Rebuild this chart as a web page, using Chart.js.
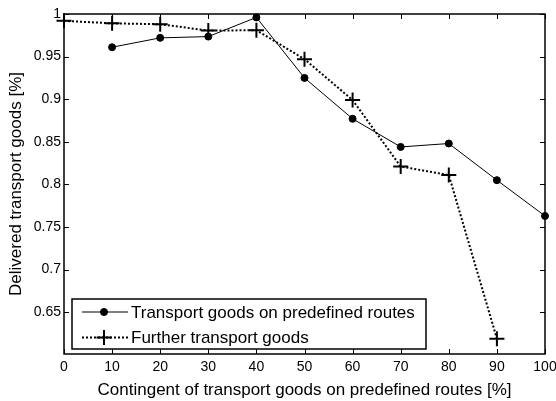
<!DOCTYPE html>
<html><head><meta charset="utf-8">
<script src="https://cdn.jsdelivr.net/npm/chart.js@4/dist/chart.umd.min.js"></script>
<style>html,body{margin:0;padding:0;background:#fff;}#wrap{width:556px;height:401px;}</style>
</head><body><div id="wrap"><canvas id="c" width="556" height="401"></canvas></div>
<script>
const categories = [0, 10, 20, 30, 40, 50, 60, 70, 80, 90, 100];
const predefinedRoutes = [null, 0.961, 0.972, 0.9735, 0.996, 0.925, 0.877, 0.844, 0.848, 0.805, 0.763];
const furtherGoods = [0.992, 0.989, 0.988, 0.9805, 0.981, 0.947, 0.899, 0.821, 0.811, 0.619, null];
const xTicks = [0, 10, 20, 30, 40, 50, 60, 70, 80, 90, 100];
const yTicks = [0.65, 0.7, 0.75, 0.8, 0.85, 0.9, 0.95, 1];
const seriesLabels = ['Transport goods on predefined routes', 'Further transport goods'];
const xTitle = 'Contingent of transport goods on predefined routes [%]';
const yTitle = 'Delivered transport goods [%]';

const FONT = "Arial, 'Liberation Sans', sans-serif";

function toPoints(vals) {
  return categories.map((c, i) => ({x: c, y: vals[i]})).filter(p => p.y !== null);
}

const boxTicks = {
  id: 'boxTicks',
  beforeDatasetsDraw(chart) {
    const {ctx, chartArea: a, scales} = chart;
    ctx.save();
    ctx.strokeStyle = '#000';
    ctx.lineWidth = 1;
    const L = 5;
    scales.x.ticks.forEach(t => {
      const px = Math.round(scales.x.getPixelForValue(t.value)) + 0.5;
      ctx.beginPath();
      ctx.moveTo(px, a.bottom); ctx.lineTo(px, a.bottom - L);
      ctx.moveTo(px, a.top); ctx.lineTo(px, a.top + L);
      ctx.stroke();
    });
    scales.y.ticks.forEach(t => {
      const py = Math.round(scales.y.getPixelForValue(t.value)) + 0.5;
      ctx.beginPath();
      ctx.moveTo(a.left, py); ctx.lineTo(a.left + L, py);
      ctx.moveTo(a.right, py); ctx.lineTo(a.right - L, py);
      ctx.stroke();
    });
    ctx.lineWidth = 1.5;
    ctx.strokeRect(a.left, a.top, a.right - a.left, a.bottom - a.top);
    ctx.restore();
  }
};

const boxLegend = {
  id: 'boxLegend',
  afterDatasetsDraw(chart) {
    const {ctx} = chart;
    const x0 = 72, y0 = 299, w = 354, h = 50;
    ctx.save();
    ctx.fillStyle = '#fff';
    ctx.fillRect(x0, y0, w, h);
    ctx.strokeStyle = '#000';
    ctx.lineWidth = 1.5;
    ctx.strokeRect(x0, y0, w, h);
    const rows = [312, 337.5];
    chart.data.datasets.forEach((ds, i) => {
      const y = rows[i];
      ctx.strokeStyle = ds.borderColor;
      ctx.lineWidth = ds.borderWidth;
      ctx.setLineDash(ds.borderDash || []);
      ctx.beginPath();
      ctx.moveTo(82, y); ctx.lineTo(128, y);
      ctx.stroke();
      ctx.setLineDash([]);
      ctx.fillStyle = ds.pointBackgroundColor;
      ctx.strokeStyle = ds.pointBorderColor;
      ctx.lineWidth = ds.pointBorderWidth;
      Chart.helpers.drawPoint(ctx, {pointStyle: ds.pointStyle, radius: ds.pointRadius, rotation: 0, borderWidth: ds.pointBorderWidth}, 104, y);
      ctx.fillStyle = '#000';
      ctx.font = '17px ' + FONT;
      ctx.textBaseline = 'middle';
      ctx.textAlign = 'left';
      ctx.fillText(ds.label, 131, y + 1);
    });
    ctx.restore();
  }
};

new Chart(document.getElementById('c'), {
  type: 'line',
  data: {
    datasets: [
      {
        label: seriesLabels[0],
        data: toPoints(predefinedRoutes),
        borderColor: '#000', borderWidth: 1,
        pointStyle: 'circle', pointRadius: 3.5,
        pointBackgroundColor: '#000', pointBorderColor: '#000', pointBorderWidth: 1,
        clip: false, tension: 0
      },
      {
        label: seriesLabels[1],
        data: toPoints(furtherGoods),
        borderColor: '#000', borderWidth: 2, borderDash: [2, 2],
        pointStyle: 'cross', pointRadius: 7.5,
        pointBackgroundColor: '#000', pointBorderColor: '#000', pointBorderWidth: 2,
        clip: false, tension: 0
      }
    ]
  },
  options: {
    responsive: false,
    animation: false,
    devicePixelRatio: 1,
    layout: {padding: {left: 0, top: 14, right: 11, bottom: 0}},
    plugins: {legend: {display: false}, tooltip: {enabled: false}},
    scales: {
      x: {
        type: 'linear', min: 0, max: 100,
        afterBuildTicks: s => { s.ticks = xTicks.map(v => ({value: v})); },
        afterFit: s => { s.height = 47; s.paddingLeft = 0; s.paddingRight = 0; },
        grid: {display: false, drawTicks: false},
        border: {display: false},
        ticks: {color: '#000', font: {family: FONT, size: 14}, padding: 5, maxRotation: 0, autoSkip: false, callback: v => String(v)},
        title: {display: true, text: xTitle, color: '#000', font: {family: FONT, size: 17}, padding: {top: 0, bottom: 0}}
      },
      y: {
        type: 'linear', min: 0.601, max: 1,
        afterBuildTicks: s => { s.ticks = yTicks.map(v => ({value: v})); },
        afterFit: s => { s.width = 64; s.paddingTop = 0; s.paddingBottom = 0; },
        grid: {display: false, drawTicks: false},
        border: {display: false},
        ticks: {color: '#000', font: {family: FONT, size: 14}, padding: 3, callback: v => String(+(+v).toFixed(2))},
        title: {display: true, text: yTitle, color: '#000', font: {family: FONT, size: 17}, padding: {top: 6, bottom: 0}}
      }
    }
  },
  plugins: [boxTicks, boxLegend]
});
</script>
</body></html>
